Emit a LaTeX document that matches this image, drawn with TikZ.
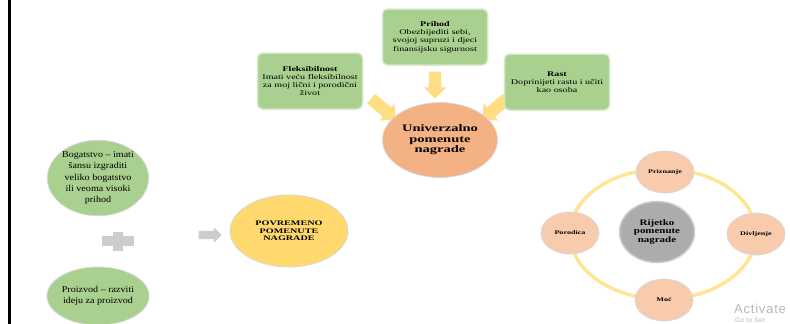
\documentclass[tikz,border=0pt]{standalone}
\usepackage{fontspec}
\setmainfont{Liberation Serif}
\newfontfamily\winfont[LetterSpace=6]{Liberation Sans}
\newfontfamily\malosiri[FakeStretch=1.12]{Liberation Serif}
\newfontfamily\siri[FakeStretch=1.3]{Liberation Serif}
\newfontfamily\kutsiri[FakeStretch=1.4]{Liberation Serif}
\newfontfamily\najsiri[FakeStretch=1.45]{Liberation Serif}
\usepackage{tikz}
\usetikzlibrary{shapes.geometric, shapes.arrows, positioning, calc}

\definecolor{zelena}{RGB}{169,208,142}
\definecolor{zelenarub}{RGB}{214,232,200}
\definecolor{narandza}{RGB}{244,177,131}
\definecolor{zuta}{RGB}{255,217,110}
\definecolor{breskva}{RGB}{248,203,173}
\definecolor{siva}{RGB}{172,172,172}
\definecolor{svsiva}{RGB}{205,205,205}
\definecolor{strelica}{RGB}{255,221,130}
\definecolor{prsten}{RGB}{255,230,150}

\tikzset{
  kutija/.style={draw=zelenarub, line width=1.5pt, fill=zelena, rounded corners=5pt,
    minimum width=105pt, minimum height=56pt, align=center, inner sep=2pt,
    font=\kutsiri\fontsize{7.2}{8.3}\selectfont},
  jaje/.style={ellipse, draw=white!85!black, line width=0.8pt, align=center, inner sep=0pt},
  krug/.style={jaje, fill=breskva, minimum width=58pt, minimum height=42pt,
    font=\najsiri\bfseries\fontsize{5.6}{6.5}\selectfont},
  blok/.style={single arrow, fill=strelica, draw=none, inner xsep=0pt, inner ysep=6pt,
    single arrow head extend=5pt}
}

\begin{document}
\begin{tikzpicture}[x=1pt, y=-1pt]
  \useasboundingbox (0,0) rectangle (790,324);
  \fill[white] (0,0) rectangle (790,324);
  \fill[black] (8,0) rectangle (11,324);

  % gornji dio
  \node[blok, minimum height=27pt, rotate=-90] (s1) at (435,82) {};
  \node[blok, minimum height=32pt, rotate=-40] (s2) at (381,107) {};
  \node[blok, minimum height=32pt, rotate=-140] (s3) at (497,107) {};
  \node[kutija] (prihod) at (435,37)
    {\textbf{Prihod}\\Obezbijediti sebi,\\svojoj supruzi i djeci\\finansijsku sigurnost};
  \node[kutija] (fleks) at (310,81)
    {\textbf{Fleksibilnost}\\Imati veću fleksibilnost\\za moj lični i porodični\\život};
  \node[kutija] (rast) at (557,82)
    {\textbf{Rast}\\Doprinijeti rastu i učiti\\kao osoba};
  \node[jaje, fill=narandza, minimum width=115pt, minimum height=75pt,
        font=\najsiri\bfseries\fontsize{10}{10.5}\selectfont] (univ) at (440,140)
    {Univerzalno\\pomenute\\nagrade};

  % lijevi dio
  \node[jaje, fill=zelena, minimum width=97pt, minimum height=64pt,
        font=\malosiri\fontsize{9}{11.4}\selectfont] (bogat) at (98,178)
    {Bogatstvo – imati\\šansu izgraditi\\veliko bogatstvo\\ili veoma visoki\\prihod};
  \node[jaje, fill=zelena, minimum width=95pt, minimum height=58pt,
        font=\malosiri\fontsize{9}{11.4}\selectfont] (proiz) at (98,296)
    {Proizvod – razviti\\ideju za proizvod};
  \node (plus) at (118,241) {};
  \fill[svsiva] ($(plus)+(-16,-5)$) rectangle ($(plus)+(16,5)$);
  \fill[svsiva] ($(plus)+(-5,-9.5)$) rectangle ($(plus)+(5,9.5)$);
  \node[blok, fill=svsiva, minimum height=23pt, inner ysep=4pt,
        single arrow head extend=3.5pt] (s4) at (208,235) {};
  \node[jaje, fill=zuta, minimum width=118pt, minimum height=72pt,
        font=\najsiri\bfseries\fontsize{7}{7.6}\selectfont] (povr) at (289,231)
    {POVREMENO\\POMENUTE\\NAGRADE};

  % desni dio
  \coordinate (centar) at (663,234);
  \draw[prsten, line width=3.5pt] (centar) ellipse (93 and 65);
  \node[jaje, fill=siva, draw=white!80!black, line width=1.5pt,
        minimum width=75pt, minimum height=61pt,
        font=\siri\bfseries\fontsize{8.4}{8.4}\selectfont] (rijetko) at (657,232)
    {Rijetko\\pomenute\\nagrade};
  \foreach \x/\y/\ime/\tekst in {665/172/priz/Priznanje, 570/233/poro/Porodica,
                                 756/234/divlj/Divljenje, 664/300/moc/Moć} {
    \node[krug] (\ime) at (\x,\y) {\tekst};
  }

  \node[anchor=west, text=black!28, font=\winfont\fontsize{13}{13}\selectfont, inner sep=0pt]
    (akt) at (734,309) {Activate};
  \node[anchor=west, text=black!28, font=\winfont\fontsize{6.5}{7}\selectfont, inner sep=0pt]
    (idi) at (735,320) {Go to Set};
\end{tikzpicture}
\end{document}
